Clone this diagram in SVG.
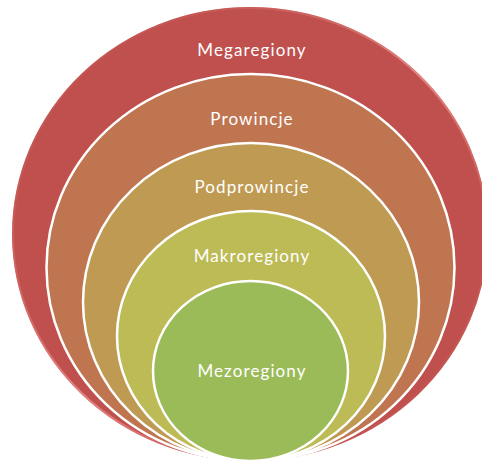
<svg xmlns="http://www.w3.org/2000/svg" width="482" height="461" viewBox="0 0 482 461">
  <style>
    .ring { stroke: #FFFFFF; stroke-width: 2.5; }
    .label { font-family: "Lato", "Open Sans", "Liberation Sans", sans-serif; font-size: 17px; letter-spacing: 1.1px; fill: #FFFFFF; text-anchor: middle; }
  </style>
  <defs>
    <linearGradient id="edge" x1="0" y1="0" x2="1" y2="1">
      <stop offset="0" stop-color="#C0504D" stop-opacity="0"/>
      <stop offset="0.5" stop-color="#E88A87" stop-opacity="0.9"/>
      <stop offset="1" stop-color="#C0504D" stop-opacity="0"/>
    </linearGradient>
  </defs>
  <rect width="482" height="461" fill="#FFFFFF"/>
  <g id="megaregiony">
    <ellipse cx="250" cy="234" rx="238" ry="227" fill="#C0504D"/>
    <ellipse cx="250" cy="234" rx="237" ry="226" fill="none" stroke="url(#edge)" stroke-width="2"/>
    <text class="label" x="252" y="56">Megaregiony</text>
  </g>
  <g id="prowincje">
    <ellipse class="ring" cx="250.5" cy="267.5" rx="204" ry="193.5" fill="#BF7550"/>
    <text class="label" x="252" y="125">Prowincje</text>
  </g>
  <g id="podprowincje">
    <ellipse class="ring" cx="251" cy="302" rx="168" ry="159" fill="#BE9A52"/>
    <text class="label" x="252" y="193">Podprowincje</text>
  </g>
  <g id="makroregiony">
    <ellipse class="ring" cx="251" cy="336" rx="134" ry="125" fill="#BCBB55"/>
    <text class="label" x="252" y="262">Makroregiony</text>
  </g>
  <g id="mezoregiony">
    <ellipse class="ring" cx="250.5" cy="371" rx="97.5" ry="90" fill="#9BBB59"/>
    <text class="label" x="252" y="377">Mezoregiony</text>
  </g>
  <g id="connectors"/>
</svg>
